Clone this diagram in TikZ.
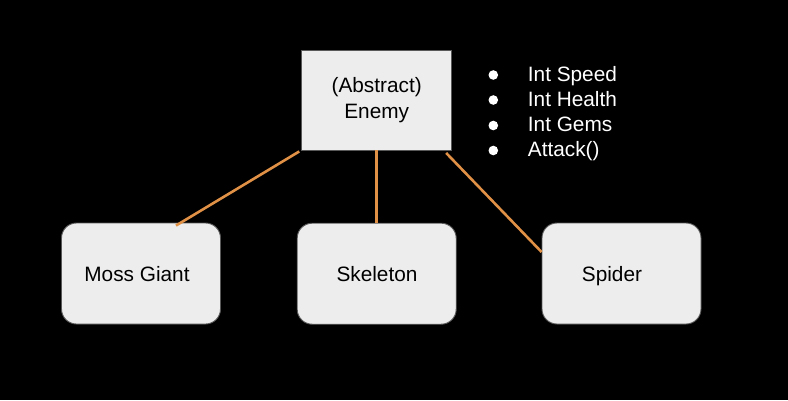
\documentclass[tikz,border=0pt]{standalone}
\usepackage{fontspec}
\setmainfont{Liberation Sans}
\usetikzlibrary{calc}
\begin{document}
\begin{tikzpicture}[x=1pt,y=-1pt,
  txt/.style={font=\fontsize{20.8}{25.7}\selectfont},
  absbox/.style={draw=black!65,line width=0.9pt,fill=black!7,minimum width=150pt,minimum height=100pt,inner sep=0pt,align=center,txt},
  kidbox/.style={draw=black!65,line width=0.9pt,fill=black!7,rounded corners=15pt,minimum width=159pt,minimum height=101pt,inner sep=0pt},
  kidtxt/.style={txt,anchor=base,inner sep=0pt},
  link/.style={draw={rgb,255:red,225;green,145;blue,70},line width=2.6pt},
  dot/.style={circle,fill=white,minimum size=9.6pt,inner sep=0pt},
  item/.style={txt,text=white,anchor=base west,inner sep=0pt}]
\useasboundingbox[fill=black] (0,0) rectangle (788,400);
\node[absbox] (enemy) at (376.7,100) {(Abstract)\\Enemy};
\node[kidbox] (moss) at (141,273.5) {};
\node[kidtxt] (mosst) at (137,281.7) {Moss Giant};
\node[kidbox] (skel) at (376.7,273.7) {};
\node[kidtxt] (skelt) at (377,281.7) {Skeleton};
\node[kidbox] (spider) at (621.5,273.5) {};
\node[kidtxt] (spidert) at (612,281.7) {Spider};
\coordinate (a1) at ($(enemy.south west)+(-2,1)$);
\coordinate (a2) at ($(moss.north)+(35,3)$);
\coordinate (c1) at ($(enemy.south east)+(-6,2.5)$);
\coordinate (c2) at ($(spider.west)+(0,-21.5)$);
\draw[link] (a1) -- (a2);
\draw[link] (enemy.south) -- (skel.north);
\draw[link] (c1) -- (c2);
\node[dot] (d1) at (493.3,75) {};
\node[dot] (d2) at (493.3,100) {};
\node[dot] (d3) at (493.3,125.5) {};
\node[dot] (d4) at (493.3,150.5) {};
\node[item] (t1) at (527.7,81.7) {Int Speed};
\node[item] (t2) at (527.7,106.7) {Int Health};
\node[item] (t3) at (527.7,131.7) {Int Gems};
\node[item] (t4) at (527.7,156.7) {Attack()};
\end{tikzpicture}
\end{document}
